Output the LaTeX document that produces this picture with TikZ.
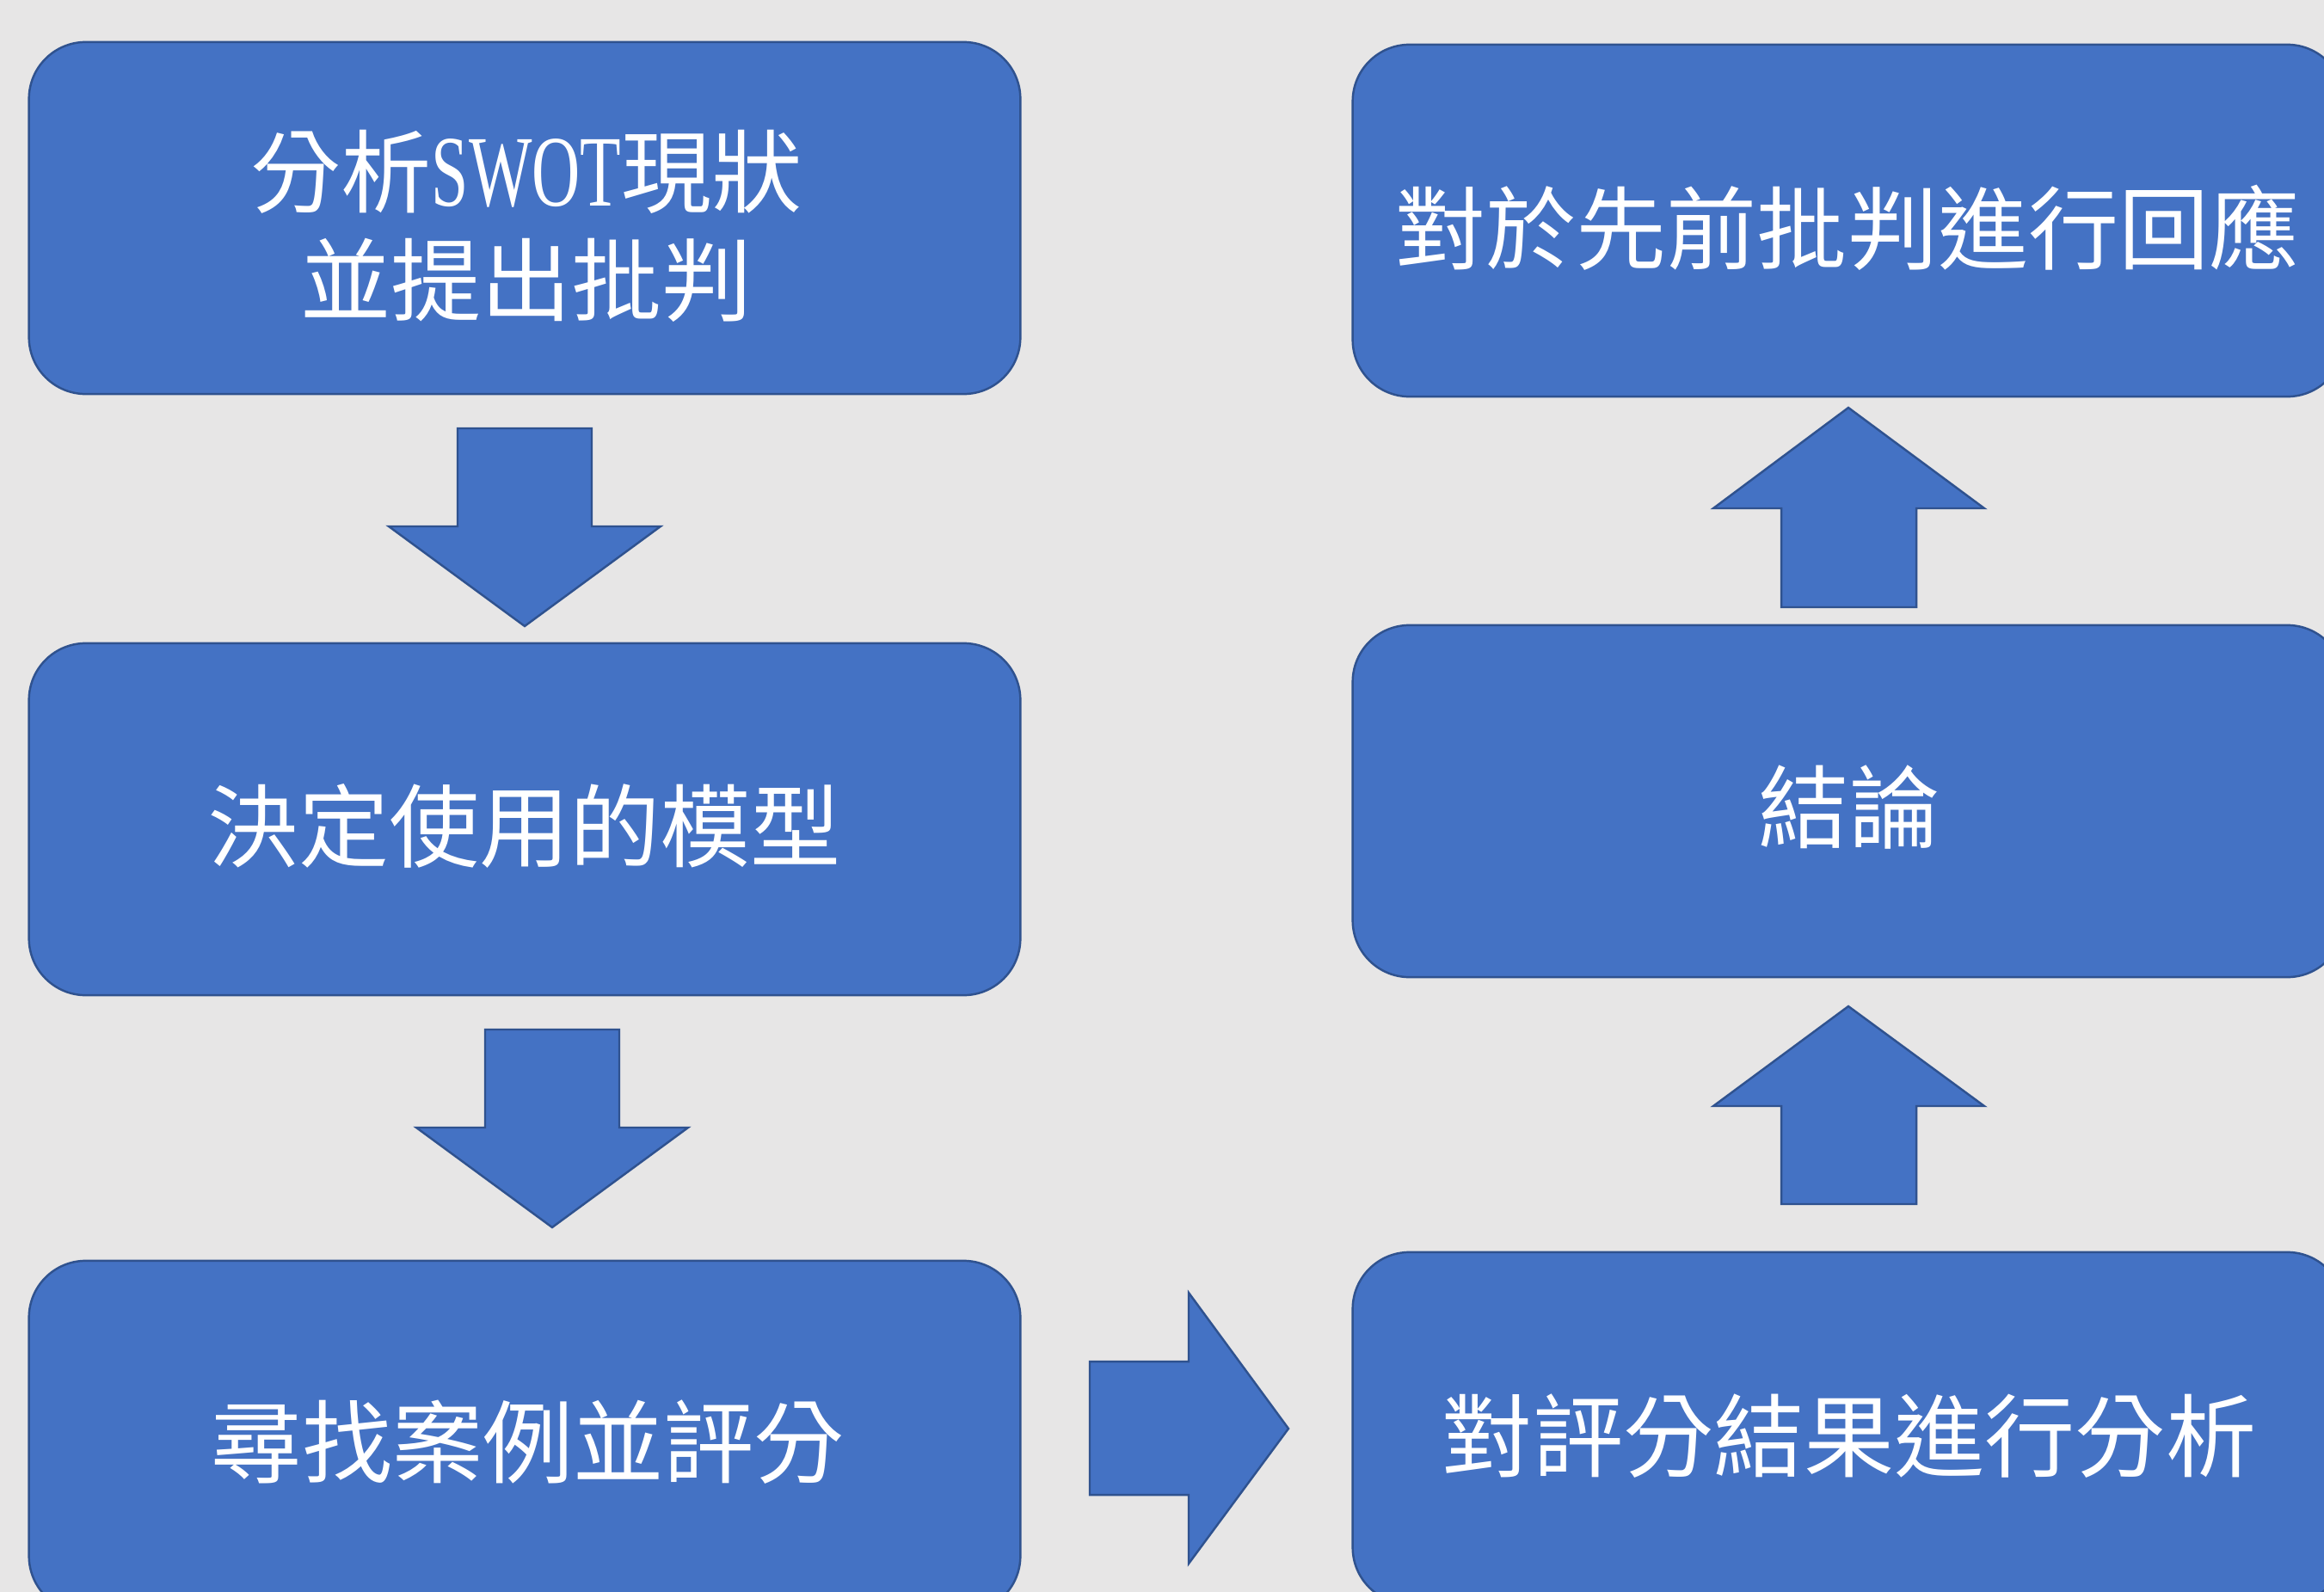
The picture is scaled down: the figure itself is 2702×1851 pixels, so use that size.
\documentclass[tikz,border=0pt]{standalone}
\usepackage{fontspec}
\setmainfont{Noto Sans CJK TC}
\newfontfamily\latinserif{Liberation Serif}
\definecolor{bgc}{HTML}{E7E6E6}
\definecolor{fillc}{HTML}{4472C4}
\definecolor{edgec}{HTML}{2F528F}
\tikzset{
  box/.style={draw=edgec, fill=fillc, line width=0.7pt, rounded corners=0.66cm,
    minimum width=11.52cm, minimum height=4.09cm, inner sep=0pt},
  label/.style={text=white, inner sep=0pt, align=center,
    font=\fontsize{29.9}{35.9}\selectfont},
  blockarrow/.style={draw=edgec, fill=fillc, line width=0.7pt, line join=miter}
}
\begin{document}
\begin{tikzpicture}[x=0.01cm, y=-0.01cm]
\useasboundingbox (0,0) rectangle (2702,1851);
\clip (0,0) rectangle (2702,1851);
\fill[bgc] (0,0) rectangle (2702,1851);

% boxes
\node[box] (b1) at (610,253.5) {};
\node[box] (b2) at (610,952.5) {};
\node[box] (b3) at (610,1670.5) {};
\node[box] (r1) at (2149,256.5) {};
\node[box] (r2) at (2149,931.5) {};
\node[box] (r3) at (2149,1660.5) {};

% texts
\node[label] (t1) at (612,263) {分析{\latinserif\scalebox{0.74}[1.12]{SWOT}}現狀\\並提出批判};
\node[label] (t2) at (610,960) {決定使用的模型};
\node[label] (t3) at (614,1677) {尋找案例並評分};
\node[label] (u1) at (2148,265) {對於先前批判進行回應};
\node[label] (u2) at (2150,939) {結論};
\node[label] (u3) at (2150,1670) {對評分結果進行分析};

% block arrows
\draw[blockarrow] (532,498) -- (688,498) -- (688,612) -- (768,612) -- (610,728) -- (452,612) -- (532,612) -- cycle;
\draw[blockarrow] (564,1197) -- (720,1197) -- (720,1311) -- (800,1311) -- (642,1427) -- (484,1311) -- (564,1311) -- cycle;
\draw[blockarrow] (1267,1583) -- (1382,1583) -- (1382,1503) -- (1498,1661) -- (1382,1818) -- (1382,1738) -- (1267,1738) -- cycle;
\draw[blockarrow] (2149,474) -- (2307,591) -- (2228,591) -- (2228,706) -- (2071,706) -- (2071,591) -- (1992,591) -- cycle;
\draw[blockarrow] (2149,1170) -- (2307,1286) -- (2228,1286) -- (2228,1400) -- (2071,1400) -- (2071,1286) -- (1992,1286) -- cycle;
\end{tikzpicture}
\end{document}
